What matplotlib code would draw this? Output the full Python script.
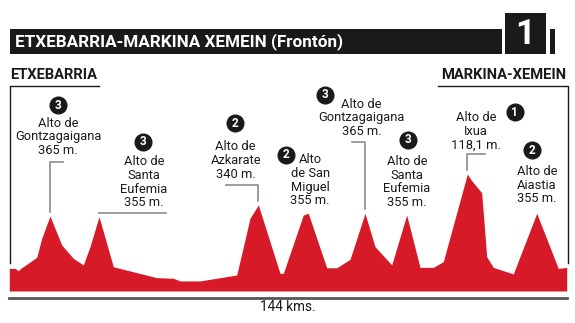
import numpy as np
import matplotlib
matplotlib.use("Agg")
import matplotlib.pyplot as plt
from matplotlib.patches import Rectangle

plt.rcParams['font.family'] = ['Roboto', 'DejaVu Sans']

# profile: distance (km) and altitude (m)
km = [0, 1.47, 2.33, 2.95, 7.08, 8.37, 10.51, 13.54, 16.53, 19.12, 20.85, 23.17,
      26.87, 38.08, 42.37, 44.10, 49.27, 58.75, 62.18, 64.33, 69.93, 70.79, 75.95,
      77.24, 82.00, 84.58, 88.02, 91.89, 94.47, 98.79, 102.66, 106.10, 109.54,
      112.12, 118.32, 119.46, 122.04, 123.33, 125.04, 130.20, 136.25, 141.83, 144.0]
alt = [110, 110, 99, 110, 164, 256, 365, 224, 159, 127, 216, 362,
       118, 65, 62, 49, 49, 78, 354, 419, 86, 86, 370,
       378, 113, 113, 154, 378, 216, 127, 370, 115, 115,
       143, 569, 537, 478, 167, 115, 83, 378, 110, 115]

peak_km = [10.51, 23.17, 64.33, 77.24, 91.89, 102.66, 118.32, 136.25]
peak_names = ['Alto de\nGontzagaigana', 'Alto de\nSanta\nEufemia', 'Alto de\nAzkarate',
              'Alto\nde San\nMiguel', 'Alto de\nGontzagaigana', 'Alto de\nSanta\nEufemia',
              'Alto de\nIxua', 'Alto de\nAiastia']
peak_heights = ['365 m.', '355 m.', '340 m.', '355 m.', '365 m.', '355 m.', '118,1 m.', '355 m.']
peak_cats = ['3', '3', '2', '2', '3', '3', '1', '2']

title = 'ETXEBARRIA-MARKINA XEMEIN (Frontón)'
stage = '1'
start_town = 'ETXEBARRIA'
end_town = 'MARKINA-XEMEIN'
distance = '144 kms.'

# layout (km, m) for labels, badges and leader lines
label_xy = [(12.6, 750), (34.8, 529), (58.5, 634), (77.7, 539),
            (91.0, 843), (102.7, 531), (120.6, 778), (136.3, 515)]
badge_xy = [(12.7, 905), (34.6, 727), (58.3, 816), (71.5, 662),
            (81.6, 954), (103.1, 735), (130.6, 870), (135.0, 686)]
leaders = [(628, 13.87), (381, 40.4), (516, 55.9), None,
           (727, 88.45), None, (667, 122.9), None]
line_step = 67  # m between label lines

red = '#d71a28'
ink = '#1a1a1a'
grey = '#8c8c8c'

W, H = 575, 323
fig = plt.figure(figsize=(W / 100, H / 100), dpi=100)

# header
def px_rect(x0, y0, x1, y1, **kw):
    fig.patches.append(Rectangle((x0 / W, 1 - y1 / H), (x1 - x0) / W, (y1 - y0) / H,
                                 transform=fig.transFigure, **kw))

px_rect(10, 29, 502, 54, color=ink, lw=0)
px_rect(505, 13, 546, 54, color=ink, lw=0)
px_rect(550, 29, 555, 54, color=ink, lw=0)
fig.text(15 / W, 1 - 42 / H, title, color='white', fontsize=12.3, fontweight='bold',
         ha='left', va='center')
fig.text(525.5 / W, 1 - 34 / H, stage, color='white', fontsize=25, fontweight='bold',
         ha='center', va='center')
fig.text(10 / W, 1 - 75 / H, start_town, color=ink, fontsize=10.6, fontweight='bold',
         ha='left', va='center')
fig.text(566 / W, 1 - 75 / H, end_town, color=ink, fontsize=10.6, fontweight='bold',
         ha='right', va='center')
fig.text(288 / W, 1 - 307 / H, distance, color=ink, fontsize=9.8,
         ha='center', va='center')

# profile axes
ax = fig.add_axes([9.3 / W, (H - 297.7) / H, 557.4 / W, (297.7 - 86) / H])
ax.set_xlim(0, 144)
ax.set_ylim(-32.6, 997.7)
ax.fill_between(km, alt, 0, color=red, lw=0)
for s in ['top', 'left', 'right']:
    ax.spines[s].set_visible(False)
ax.spines['bottom'].set_color('#555555')
ax.spines['bottom'].set_linewidth(2)
ax.set_xticks([])
ax.set_yticks([])
ax.patch.set_alpha(0)

# start / finish frames
ax.plot([0.18, 0.18, 23.3], [136, 997.7, 997.7], color=ink, lw=1, clip_on=False)
ax.plot([110.8, 144.3, 144.3], [997.7, 997.7, 136], color=ink, lw=1, clip_on=False)

peak_alt = np.interp(peak_km, km, alt)
for i in range(len(peak_km)):
    lx, ly = label_xy[i]
    lines = (peak_names[i] + '\n' + peak_heights[i]).split('\n')
    n = len(lines)
    for j, txt in enumerate(lines):
        ax.text(lx, ly + ((n - 1) / 2 - j) * line_step, txt, ha='center', va='center',
                fontsize=9.3, color=ink)
    bx, by = badge_xy[i]
    ax.plot(bx, by, 'o', ms=12, color=ink, clip_on=False)
    ax.text(bx, by, peak_cats[i], ha='center', va='center', color='white',
            fontsize=8.5, fontweight='bold')
    if leaders[i]:
        top, end = leaders[i]
        ax.plot([peak_km[i], peak_km[i], end], [peak_alt[i] + 20, top, top],
                color=grey, lw=1.2)

fig.savefig('out.png', dpi=100)
